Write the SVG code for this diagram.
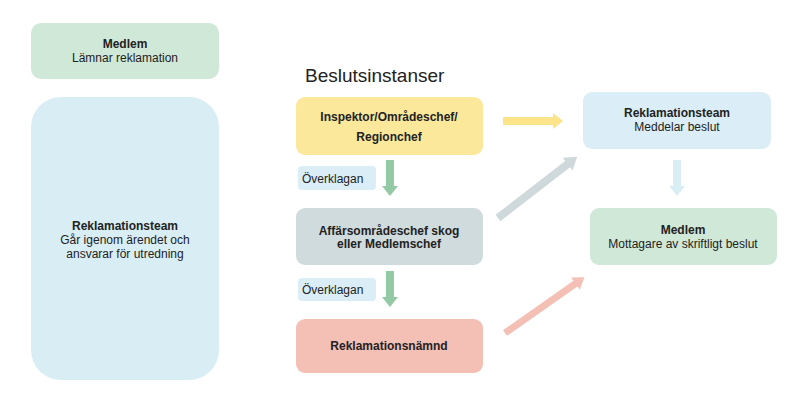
<svg xmlns="http://www.w3.org/2000/svg" width="800" height="400" viewBox="0 0 800 400">
<style>
text{font-family:"Liberation Sans",Arial,sans-serif;font-size:12px;fill:#222;text-anchor:middle}
.b{font-weight:bold}
.l{text-anchor:start}
</style>
<rect width="800" height="400" fill="#fff"/>
<g id="medlem1"><rect x="31" y="23" width="188" height="56" rx="10" fill="#d0e8d8"/><text x="125" y="48" class="b">Medlem</text><text x="125" y="62">Lämnar reklamation</text></g>
<g id="team1"><rect x="31" y="97" width="188" height="283" rx="30" fill="#d9edf5"/><text x="125" y="230" class="b">Reklamationsteam</text><text x="125" y="244">Går igenom ärendet och</text><text x="125" y="258">ansvarar för utredning</text></g>
<text x="305" y="82" class="l" style="font-size:19px">Beslutsinstanser</text>
<g id="inspektor"><rect x="296" y="97" width="187" height="58" rx="9" fill="#fbe89a"/><text x="389" y="121" class="b">Inspektor/Områdeschef/</text><text x="389" y="141" class="b">Regionchef</text></g>
<g id="ov1"><rect x="298" y="166" width="78" height="24" rx="4" fill="#dbeef7"/><text x="302" y="183" class="l">Överklagan</text></g>
<g id="affars"><rect x="296" y="208" width="187" height="57" rx="9" fill="#d0dbde"/><text x="389" y="235" class="b">Affärsområdeschef skog</text><text x="389" y="248" class="b">eller Medlemschef</text></g>
<g id="ov2"><rect x="298" y="278" width="78" height="23" rx="4" fill="#dbeef7"/><text x="302" y="294" class="l">Överklagan</text></g>
<g id="namnd"><rect x="296" y="319" width="187" height="54" rx="9" fill="#f4bfb5"/><text x="389" y="350" class="b">Reklamationsnämnd</text></g>
<g id="team2"><rect x="583" y="92" width="188" height="57" rx="9" fill="#dbeef7"/><text x="677" y="117" class="b">Reklamationsteam</text><text x="677" y="131">Meddelar beslut</text></g>
<g id="medlem2"><rect x="590" y="208" width="187" height="57" rx="9" fill="#d0e8d8"/><text x="683" y="234" class="b">Medlem</text><text x="683" y="248">Mottagare av skriftligt beslut</text></g>
<g id="connectors">
<path d="M386 160h8v26h4l-8 10l-8-10h4z" fill="#93c9a5"/>
<path d="M386 271h8v26h4l-8 10l-8-10h4z" fill="#93c9a5"/>
<path d="M503 117h50v-4l10 8l-10 8v-4h-50z" fill="#fbe48a"/>
<path d="M673 160h8v26h4l-8 10l-8-10h4z" fill="#d9edf5"/>
<g transform="translate(498,218) rotate(-37.7)"><path d="M0 -4h88v-4l12 8l-12 8v-4h-88z" fill="#cfd9dc"/></g>
<g transform="translate(505,333) rotate(-35)"><path d="M0 -3.5h86v-4l11 7.5l-11 7.5v-4h-86z" fill="#f4bfb5"/></g>
</g>
</svg>
